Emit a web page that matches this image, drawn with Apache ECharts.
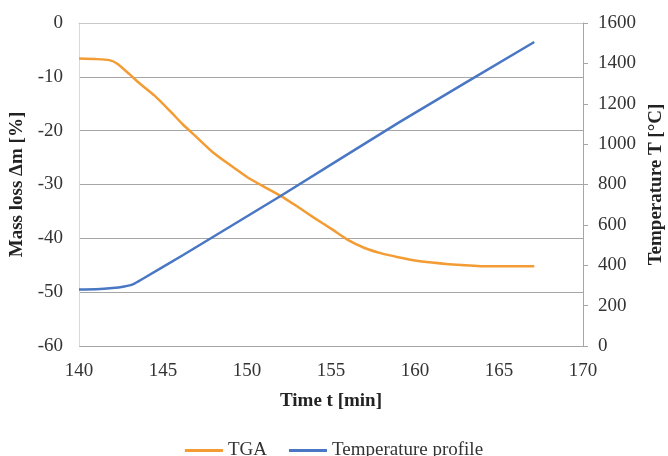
<!DOCTYPE html>
<html>
<head>
<meta charset="utf-8">
<script src="https://cdn.jsdelivr.net/npm/echarts@6/dist/echarts.min.js"></script>
<style>
html,body{margin:0;padding:0;background:#fff;}
#c{width:668px;height:456px;}
</style>
</head>
<body>
<div id="c"></div>
<script>
// Data
const tgaTime = [140, 141, 141.8, 142.3, 143, 143.6, 144.5, 145.4, 146.2, 147, 148, 149, 150, 151, 152, 153, 154, 155, 156, 157, 158, 159, 160, 161, 162, 163, 164, 165, 166, 167.1];
const tgaMass = [-6.6, -6.7, -6.9, -7.6, -9.5, -11.2, -13.5, -16.3, -18.9, -21.2, -24.1, -26.4, -28.6, -30.4, -32.1, -34.1, -36.2, -38.2, -40.3, -41.8, -42.8, -43.5, -44.1, -44.5, -44.8, -45.0, -45.2, -45.2, -45.2, -45.2];
const tempTime = [140, 141, 142, 142.7, 143.2, 143.8, 146.2, 152, 159.1, 167.1];
const tempVal = [280, 281, 287, 295, 305, 333, 451, 743, 1110, 1506];
const seriesNames = ['TGA', 'Temperature profile'];

const font = 'Liberation Serif';
const chart = echarts.init(document.getElementById('c'));
chart.setOption({
  animation: false,
  backgroundColor: '#fff',
  textStyle: { fontFamily: font },
  grid: { left: 79, right: 85, top: 23, bottom: 110, outerBoundsMode: 'none', containLabel: false },
  legend: {
    top: 436, left: 'center',
    itemWidth: 38, itemHeight: 3, itemGap: 22,
    icon: 'rect',
    textStyle: { fontFamily: font, fontSize: 19, color: '#333' },
    data: seriesNames
  },
  xAxis: {
    type: 'value', min: 140, max: 170, interval: 5,
    name: 'Time t [min]', nameLocation: 'middle', nameGap: 46,
    nameTextStyle: { fontFamily: font, fontSize: 19, fontWeight: 'bold', color: '#222' },
    axisLine: { show: true, lineStyle: { color: '#c8c8c8', width: 1 } },
    axisTick: { show: false },
    splitLine: { show: false },
    axisLabel: { fontFamily: font, fontSize: 19, color: '#333', margin: 16 }
  },
  yAxis: [{
    type: 'value', min: -60, max: 0, interval: 10, position: 'left',
    name: 'Mass loss Δm [%]', nameLocation: 'middle', nameGap: 52, nameRotate: 90,
    nameTextStyle: { fontFamily: font, fontSize: 19, fontWeight: 'bold', color: '#222' },
    axisLine: { show: true, lineStyle: { color: '#d9d9d9', width: 1 } },
    axisTick: { show: false },
    splitLine: { show: true, lineStyle: { color: '#a6a6a6', width: 1 } },
    axisLabel: { fontFamily: font, fontSize: 19, color: '#333', margin: 16 }
  }, {
    type: 'value', min: 0, max: 1600, interval: 200, position: 'right',
    name: 'Temperature T [°C]', nameLocation: 'middle', nameGap: 62, nameRotate: 90,
    nameTextStyle: { fontFamily: font, fontSize: 19, fontWeight: 'bold', color: '#222' },
    axisLine: { show: true, lineStyle: { color: '#a6a6a6', width: 1 } },
    axisTick: { show: true, length: 5, lineStyle: { color: '#a6a6a6' } },
    splitLine: { show: false },
    axisLabel: { fontFamily: font, fontSize: 19, color: '#333', margin: 15, formatter: v => String(v) }
  }],
  series: [{
    name: seriesNames[0], type: 'line', yAxisIndex: 0,
    data: tgaTime.map((t, i) => [t, tgaMass[i]]),
    showSymbol: false, smooth: 0.2,
    lineStyle: { color: '#f39c34', width: 2.5 },
    itemStyle: { color: '#f39c34' }
  }, {
    name: seriesNames[1], type: 'line', yAxisIndex: 1,
    data: tempTime.map((t, i) => [t, tempVal[i]]),
    showSymbol: false, smooth: 0.2,
    lineStyle: { color: '#4a77c4', width: 2.5 },
    itemStyle: { color: '#4a77c4' }
  }]
});
</script>
</body>
</html>
